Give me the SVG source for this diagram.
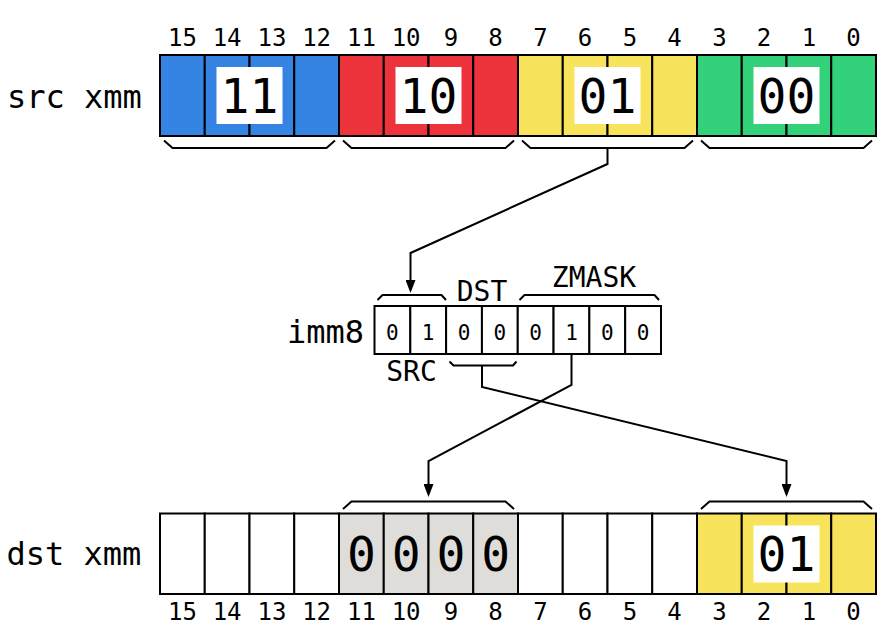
<svg xmlns="http://www.w3.org/2000/svg" width="890" height="638" viewBox="0 0 890 638">
<defs>
<style>
text{font-family:"DejaVu Sans Mono","Liberation Mono",monospace;fill:#000}
.cell{stroke:#000;stroke-width:2}
.blue{fill:#3584e4}.red{fill:#ed333b}.yel{fill:#f8e45c}.grn{fill:#33d17a}.gry{fill:#deddda}.wht{fill:#fff}
.lbl{font-size:32px}
.num{font-size:24px;text-anchor:middle}
.big{font-size:48px;text-anchor:middle}
.bit{font-size:21px;text-anchor:middle}
.fld{font-size:28px;text-anchor:middle}
.brace{fill:none;stroke:#000;stroke-width:2;stroke-linejoin:miter}
.conn{fill:none;stroke:#000;stroke-width:2}
</style>
<marker id="arr" viewBox="0 0 13 10" refX="10" refY="5" markerWidth="13" markerHeight="10" markerUnits="userSpaceOnUse" orient="auto">
<path d="M0,0 L13,5 L0,10 z" fill="#000"/>
</marker>
</defs>
<rect width="890" height="638" fill="#fff"/>

<g id="src">
<text class="lbl" x="7" y="108">src xmm</text>
<g class="num">
<text x="182.4" y="46">15</text><text x="227.1" y="46">14</text><text x="271.9" y="46">13</text><text x="316.6" y="46">12</text>
<text x="361.4" y="46">11</text><text x="406.1" y="46">10</text><text x="450.9" y="46">9</text><text x="495.6" y="46">8</text>
<text x="540.4" y="46">7</text><text x="585.1" y="46">6</text><text x="629.9" y="46">5</text><text x="674.6" y="46">4</text>
<text x="719.4" y="46">3</text><text x="764.1" y="46">2</text><text x="808.9" y="46">1</text><text x="853.6" y="46">0</text>
</g>
<g class="cell">
<rect class="blue" x="160" y="55" width="44.75" height="81"/><rect class="blue" x="204.75" y="55" width="44.75" height="81"/><rect class="blue" x="249.5" y="55" width="44.75" height="81"/><rect class="blue" x="294.25" y="55" width="44.75" height="81"/>
<rect class="red" x="339" y="55" width="44.75" height="81"/><rect class="red" x="383.75" y="55" width="44.75" height="81"/><rect class="red" x="428.5" y="55" width="44.75" height="81"/><rect class="red" x="473.25" y="55" width="44.75" height="81"/>
<rect class="yel" x="518" y="55" width="44.75" height="81"/><rect class="yel" x="562.75" y="55" width="44.75" height="81"/><rect class="yel" x="607.5" y="55" width="44.75" height="81"/><rect class="yel" x="652.25" y="55" width="44.75" height="81"/>
<rect class="grn" x="697" y="55" width="44.75" height="81"/><rect class="grn" x="741.75" y="55" width="44.75" height="81"/><rect class="grn" x="786.5" y="55" width="44.75" height="81"/><rect class="grn" x="831.25" y="55" width="44.75" height="81"/>
</g>
<rect class="wht" x="216.5" y="67" width="66" height="57"/>
<rect class="wht" x="395.5" y="67" width="66" height="57"/>
<rect class="wht" x="574.5" y="67" width="66" height="57"/>
<rect class="wht" x="753.5" y="67" width="66" height="57"/>
<text class="big" x="249.5" y="113">11</text>
<text class="big" x="428.5" y="113">10</text>
<text class="big" x="607.5" y="113">01</text>
<text class="big" x="786.5" y="113">00</text>
<path class="brace" d="M164,140.5 L172.5,148 L326.5,148 L335,140.5"/>
<path class="brace" d="M343,140.5 L351.5,148 L505.5,148 L514,140.5"/>
<path class="brace" d="M522,140.5 L530.5,148 L684.5,148 L693,140.5"/>
<path class="brace" d="M701,140.5 L709.5,148 L863.5,148 L872,140.5"/>
</g>

<g id="imm8">
<text class="lbl" x="287" y="343">imm8</text>
<g class="cell" fill="#fff">
<rect x="374.5" y="306" width="35.81" height="48"/><rect x="410.31" y="306" width="35.81" height="48"/><rect x="446.12" y="306" width="35.81" height="48"/><rect x="481.94" y="306" width="35.81" height="48"/>
<rect x="517.75" y="306" width="35.81" height="48"/><rect x="553.56" y="306" width="35.81" height="48"/><rect x="589.37" y="306" width="35.81" height="48"/><rect x="625.19" y="306" width="35.81" height="48"/>
</g>
<g class="bit">
<text x="392.4" y="340">0</text><text x="428.2" y="340">1</text><text x="464" y="340">0</text><text x="499.8" y="340">0</text>
<text x="535.7" y="340">0</text><text x="571.5" y="340">1</text><text x="607.3" y="340">0</text><text x="643.1" y="340">0</text>
</g>
<path class="brace" d="M377.5,300 L382.5,295 L441.5,295 L446,300"/>
<path class="brace" d="M519.5,300 L524.5,295 L654.5,295 L659,300"/>
<path class="brace" d="M449.5,361.5 L453.5,365.5 L513,365.5 L516.5,361.5"/>
<text class="fld" x="482" y="301">DST</text>
<text class="fld" x="594" y="287">ZMASK</text>
<text class="fld" x="411.5" y="381">SRC</text>
</g>

<g id="dst">
<text class="lbl" x="6.5" y="565">dst xmm</text>
<g class="cell">
<rect class="wht" x="160" y="513.5" width="44.75" height="80.5"/><rect class="wht" x="204.75" y="513.5" width="44.75" height="80.5"/><rect class="wht" x="249.5" y="513.5" width="44.75" height="80.5"/><rect class="wht" x="294.25" y="513.5" width="44.75" height="80.5"/>
<rect class="gry" x="339" y="513.5" width="44.75" height="80.5"/><rect class="gry" x="383.75" y="513.5" width="44.75" height="80.5"/><rect class="gry" x="428.5" y="513.5" width="44.75" height="80.5"/><rect class="gry" x="473.25" y="513.5" width="44.75" height="80.5"/>
<rect class="wht" x="518" y="513.5" width="44.75" height="80.5"/><rect class="wht" x="562.75" y="513.5" width="44.75" height="80.5"/><rect class="wht" x="607.5" y="513.5" width="44.75" height="80.5"/><rect class="wht" x="652.25" y="513.5" width="44.75" height="80.5"/>
<rect class="yel" x="697" y="513.5" width="44.75" height="80.5"/><rect class="yel" x="741.75" y="513.5" width="44.75" height="80.5"/><rect class="yel" x="786.5" y="513.5" width="44.75" height="80.5"/><rect class="yel" x="831.25" y="513.5" width="44.75" height="80.5"/>
</g>
<text class="big" x="361.4" y="571">0</text><text class="big" x="406.1" y="571">0</text><text class="big" x="450.9" y="571">0</text><text class="big" x="495.6" y="571">0</text>
<rect class="wht" x="753.5" y="525.5" width="66" height="57"/>
<text class="big" x="786.5" y="571">01</text>
<path class="brace" d="M343,509 L351.5,501.5 L505.5,501.5 L514,509"/>
<path class="brace" d="M701,509 L709.5,501.5 L863.5,501.5 L872,509"/>
<g class="num">
<text x="182.4" y="620">15</text><text x="227.1" y="620">14</text><text x="271.9" y="620">13</text><text x="316.6" y="620">12</text>
<text x="361.4" y="620">11</text><text x="406.1" y="620">10</text><text x="450.9" y="620">9</text><text x="495.6" y="620">8</text>
<text x="540.4" y="620">7</text><text x="585.1" y="620">6</text><text x="629.9" y="620">5</text><text x="674.6" y="620">4</text>
<text x="719.4" y="620">3</text><text x="764.1" y="620">2</text><text x="808.9" y="620">1</text><text x="853.6" y="620">0</text>
</g>
</g>

<g id="connectors">
<path class="conn" marker-end="url(#arr)" d="M607.5,148 L607.5,164 L410.5,253 L410.5,290"/>
<path class="conn" marker-end="url(#arr)" d="M482,365.5 L482,387 L786.5,461 L786.5,494"/>
<path class="conn" marker-end="url(#arr)" d="M571.5,354 L571.5,385 L428.5,461 L428.5,494"/>
</g>
</svg>
